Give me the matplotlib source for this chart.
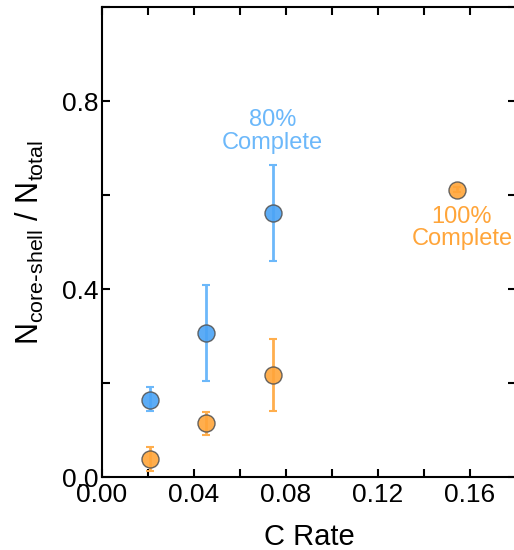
import matplotlib
matplotlib.use("Agg")
import matplotlib.pyplot as plt
from matplotlib.ticker import MultipleLocator, FormatStrFormatter

plt.rcParams['font.family'] = ['Liberation Sans', 'DejaVu Sans']

blue_x = [0.021, 0.0455, 0.0742]
blue_y = [0.165, 0.306, 0.562]
blue_lo = [0.140, 0.205, 0.460]
blue_hi = [0.191, 0.408, 0.664]

orange_x = [0.021, 0.0455, 0.0742, 0.1542]
orange_y = [0.038, 0.114, 0.217, 0.612]
orange_lo = [0.013, 0.089, 0.140, 0.607]
orange_hi = [0.063, 0.139, 0.293, 0.617]

blue_c = '#4aa3f5'
blue_err = '#6cb8fa'
orange_c = '#ffa53a'
orange_err = '#ffae4d'

fig = plt.figure(figsize=(5.14, 5.5), dpi=100)
ax = fig.add_axes([0.198, 0.1327, 0.806, 0.854])

def draw(x, y, lo, hi, c, ec):
    yerr = [[yy - l for yy, l in zip(y, lo)], [h - yy for yy, h in zip(y, hi)]]
    ax.errorbar(x, y, yerr=yerr, fmt='none', ecolor=ec, elinewidth=2, capsize=3, capthick=1.5, zorder=2)
    ax.scatter(x, y, s=150, color=c, edgecolor='#555555', linewidth=1.0, alpha=0.9, zorder=3)

draw(blue_x, blue_y, blue_lo, blue_hi, blue_c, blue_err)
draw(orange_x, orange_y, orange_lo, orange_hi, orange_c, orange_err)

ax.text(0.0742, 0.736, '80%\nComplete', color=blue_err, fontsize=17, ha='center', va='center', linespacing=1.05)
ax.text(0.1565, 0.530, '100%\nComplete', color=orange_c, fontsize=17, ha='center', va='center', linespacing=1.05)

ax.set_xlim(0, 0.18)
ax.set_ylim(0, 1.0)
ax.xaxis.set_major_locator(MultipleLocator(0.04))
ax.xaxis.set_minor_locator(MultipleLocator(0.02))
ax.yaxis.set_major_locator(MultipleLocator(0.4))
ax.yaxis.set_minor_locator(MultipleLocator(0.2))
ax.xaxis.set_major_formatter(FormatStrFormatter('%.2f'))
ax.yaxis.set_major_formatter(FormatStrFormatter('%.1f'))
ax.tick_params(which='both', direction='in', length=6, width=1.5, top=True, right=True, labelsize=19)
ax.tick_params(axis='y', pad=2)
ax.tick_params(axis='x', pad=4)
for s in ax.spines.values():
    s.set_linewidth(1.5)

ax.set_xlabel('C Rate', fontsize=21, labelpad=12)
ax.set_ylabel(r'N$_{\mathregular{core\text{-}shell}}$ / N$_{\mathregular{total}}$', fontsize=22, labelpad=12)

fig.savefig('out.png', dpi=100)
